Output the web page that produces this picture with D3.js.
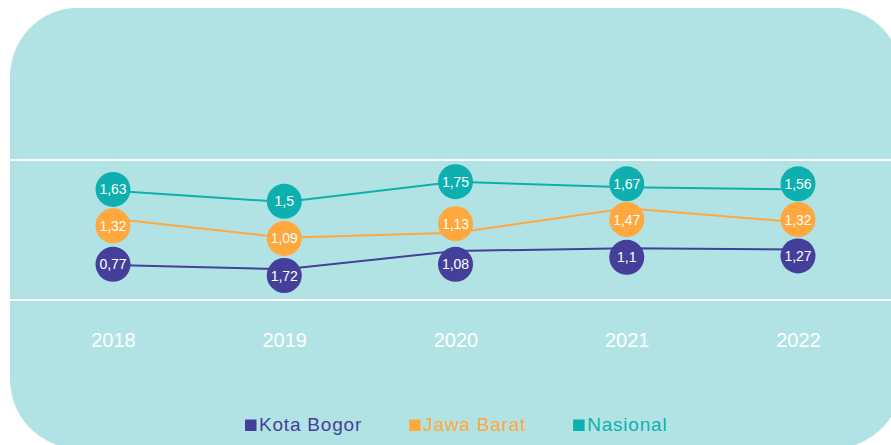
<!DOCTYPE html>
<html>
<head>
<meta charset="utf-8">
<script src="https://cdn.jsdelivr.net/npm/d3@7"></script>
<style>
  body { margin: 0; background: #fff; }
  svg { display: block; font-family: "Liberation Sans", Arial, sans-serif; }
</style>
</head>
<body>
<svg class="line-chart" width="891" height="445"></svg>
<script>
// categories
const years = ["2018", "2019", "2020", "2021", "2022"];

// plotted line values (as drawn in the picture)
const kotaBogor = [0.50, 0.44, 0.70, 0.74, 0.72];
const jawaBarat = [1.16, 0.89, 0.96, 1.31, 1.11];
const nasional  = [1.56, 1.40, 1.69, 1.61, 1.58];

// where each data-label bubble sits, same units as the lines
const kotaBogorLabelAt = [0.51, 0.35, 0.51, 0.61, 0.63];
const jawaBaratLabelAt = [1.06, 0.88, 1.09, 1.15, 1.15];
const nasionalLabelAt  = [1.58, 1.41, 1.69, 1.66, 1.66];

// data-label texts
const kotaBogorLabels = [0.77, 1.72, 1.08, 1.1, 1.27];
const jawaBaratLabels = [1.32, 1.09, 1.13, 1.47, 1.32];
const nasionalLabels  = [1.63, 1.5, 1.75, 1.67, 1.56];

const gridTicks = [0, 2];

function drawChart() {
    const svg = d3.select("svg.line-chart");
    const width = +svg.attr("width");
    const height = +svg.attr("height");

    const series = [
        {name: "Kota Bogor", color: "#433f9a", values: kotaBogor, labelAt: kotaBogorLabelAt, labels: kotaBogorLabels},
        {name: "Jawa Barat", color: "#ffa83e", values: jawaBarat, labelAt: jawaBaratLabelAt, labels: jawaBaratLabels},
        {name: "Nasional",   color: "#0db0ae", values: nasional,  labelAt: nasionalLabelAt,  labels: nasionalLabels}
    ];

    // background panel
    svg.append("rect")
        .attr("x", 10)
        .attr("y", 8)
        .attr("width", 892)
        .attr("height", 440)
        .attr("rx", 67)
        .attr("ry", 69)
        .attr("fill", "#b2e3e4");

    const x = d3.scalePoint().domain(years).range([113, 798]);
    const y = d3.scaleLinear().domain([0, 2]).range([300, 160]);

    // white horizontal gridlines
    svg.append("g")
        .selectAll("line")
        .data(gridTicks)
        .join("line")
        .attr("x1", 10)
        .attr("x2", width)
        .attr("y1", d => y(d))
        .attr("y2", d => y(d))
        .attr("stroke", "#fff")
        .attr("stroke-width", 2);

    // year labels
    const xAxis = svg.append("g")
        .attr("transform", `translate(0, ${y(0)})`)
        .call(d3.axisBottom(x).tickSize(0).tickPadding(33));
    xAxis.select(".domain").remove();
    xAxis.selectAll("text")
        .attr("fill", "#fff")
        .attr("font-size", 20)
        .attr("font-family", "Liberation Sans, Arial, sans-serif");

    const line = d3.line()
        .x((d, i) => x(years[i]))
        .y(d => y(d));

    svg.append("g")
        .selectAll("path")
        .data(series)
        .join("path")
        .attr("fill", "none")
        .attr("stroke", d => d.color)
        .attr("stroke-width", 2)
        .attr("d", d => line(d.values));

    const fmt = v => String(v).replace(".", ",");

    const bubbles = svg.append("g")
        .selectAll("g")
        .data(series.flatMap(s => s.labelAt.map((v, i) => ({
            year: years[i], at: v, label: s.labels[i], color: s.color
        }))))
        .join("g")
        .attr("transform", d => `translate(${x(d.year)}, ${y(d.at)})`);

    bubbles.append("circle")
        .attr("r", 17.5)
        .attr("fill", d => d.color);

    bubbles.append("text")
        .attr("text-anchor", "middle")
        .attr("dy", "0.36em")
        .attr("fill", "#fff")
        .attr("font-size", 14)
        .text(d => fmt(d.label));

    // legend
    const legend = svg.append("g").attr("transform", "translate(245, 431)");
    let lx = 0;
    series.forEach(s => {
        const item = legend.append("g").attr("transform", `translate(${lx}, 0)`);
        item.append("rect")
            .attr("x", 0)
            .attr("y", -11.5)
            .attr("width", 11.5)
            .attr("height", 11.5)
            .attr("fill", s.color);
        const t = item.append("text")
            .attr("x", 14)
            .attr("fill", s.color)
            .attr("font-size", 19)
            .attr("letter-spacing", 0.8)
            .text(s.name);
        lx += 14 + t.node().getComputedTextLength() + 47;
    });
}

drawChart();
</script>
</body>
</html>
